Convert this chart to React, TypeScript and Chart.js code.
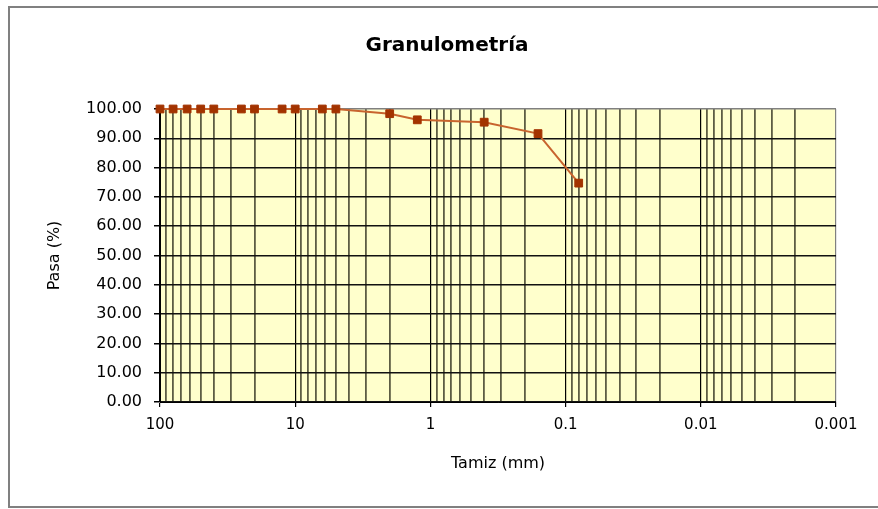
import React, { useEffect, useRef } from "react";
import { Chart, registerables } from "chart.js";

Chart.register(...registerables);

// Sieve sizes (mm) and percent passing
const sieveSizes = [100, 80, 63, 50, 40, 25, 20, 12.5, 10, 6.3, 5, 2, 1.25, 0.4, 0.16, 0.08];
const passing = [100, 100, 100, 100, 100, 100, 100, 100, 100, 100, 100, 98.4, 96.3, 95.5, 91.6, 74.7];

// Axis labels
const xMajorValues = [100, 10, 1, 0.1, 0.01, 0.001];
const xMajorLabels = ["100", "10", "1", "0.1", "0.01", "0.001"];
const yTickValues = [0, 10, 20, 30, 40, 50, 60, 70, 80, 90, 100];

const FONT = "DejaVu Sans";

function isMajor(v: number) {
  const l = Math.log10(v);
  return Math.abs(l - Math.round(l)) < 1e-6;
}

function labelFor(v: number) {
  for (let i = 0; i < xMajorValues.length; i++) {
    if (Math.abs(xMajorValues[i] - v) / xMajorValues[i] < 1e-6) return xMajorLabels[i];
  }
  return "";
}

const bgPlugin = {
  id: "bgPlugin",
  beforeDraw(chart: any) {
    const { ctx, chartArea } = chart;
    ctx.save();
    ctx.fillStyle = "#ffffff";
    ctx.fillRect(0, 0, chart.width, chart.height);
    ctx.fillStyle = "#ffffcc";
    ctx.fillRect(chartArea.left, chartArea.top, chartArea.right - chartArea.left, chartArea.bottom - chartArea.top);
    ctx.strokeStyle = "#808080";
    ctx.lineWidth = 2;
    ctx.strokeRect(9, 7, 900, 500);
    ctx.restore();
  },
};

export default function App() {
  const ref = useRef<HTMLCanvasElement | null>(null);
  useEffect(() => {
    if (!ref.current) return;
    const minorTicks: number[] = [];
    for (let e = -3; e <= 1; e++) {
      for (let s = 1; s <= 9; s++) minorTicks.push(s * Math.pow(10, e));
    }
    minorTicks.push(100);

    const chart = new Chart(ref.current, {
      type: "line",
      data: {
        datasets: [
          {
            data: sieveSizes.map((s, i) => ({ x: s, y: passing[i] })),
            borderColor: "#c8642e",
            borderWidth: 2,
            pointStyle: "rect",
            pointRadius: 5.5,
            pointBackgroundColor: "#a33300",
            pointBorderColor: "#a33300",
            pointBorderWidth: 1,
            clip: false as any,
            tension: 0,
          },
        ],
      },
      options: {
        animation: false,
        responsive: true,
        maintainAspectRatio: false,
        layout: { padding: { left: 16, top: 0, right: 0, bottom: 0 } },
        plugins: {
          legend: { display: false },
          tooltip: { enabled: false },
          title: {
            display: true,
            text: "Granulometría",
            color: "#000",
            font: { family: FONT, size: 20, weight: "bold" },
            padding: { top: 34, bottom: 51 },
          },
        },
        scales: {
          x: {
            type: "logarithmic",
            reverse: true,
            min: 0.001,
            max: 100,
            afterFit(scale: any) {
              scale.height = 107;
            },
            afterBuildTicks(scale: any) {
              scale.ticks = minorTicks.map((v) => ({ value: v, major: isMajor(v) }));
            },
            ticks: {
              autoSkip: false,
              maxRotation: 0,
              minRotation: 0,
              color: "#000",
              padding: 9,
              font: { family: FONT, size: 15 },
              callback: (v: any) => labelFor(Number(v)),
            },
            grid: {
              color: (c: any) => {
                const v = c.tick ? c.tick.value : 1;
                if (Math.abs(v - 0.001) < 1e-9) return "#808080";
                return isMajor(v) ? "#000000" : "rgba(30,30,15,0.72)";
              },
              lineWidth: (c: any) => {
                const v = c.tick ? c.tick.value : 1;
                return isMajor(v) ? 1.2 : 1.8;
              },
              tickLength: 5,
              tickColor: (c: any) => {
                const v = c.tick ? c.tick.value : 1;
                return isMajor(v) ? "#000" : "rgba(0,0,0,0)";
              },
            },
            border: { display: true, color: "#000", width: 1 },
            title: {
              display: true,
              text: "Tamiz (mm)",
              color: "#000",
              font: { family: FONT, size: 16 },
              padding: { top: 36, bottom: 36 },
            },
          },
          y: {
            type: "linear",
            min: 0,
            max: 100,
            afterFit(scale: any) {
              scale.width = 144;
            },
            afterBuildTicks(scale: any) {
              scale.ticks = yTickValues.map((v) => ({ value: v }));
            },
            ticks: {
              color: "#000",
              padding: 12,
              font: { family: FONT, size: 16 },
              callback: (v: any) => Number(v).toFixed(2),
            },
            grid: {
              color: (c: any) => (c.tick && c.tick.value === 100 ? "#808080" : "#111111"),
              lineWidth: 1.5,
              tickLength: 6,
              tickColor: "#000",
            },
            border: { display: true, color: "#000", width: 1 },
            title: {
              display: true,
              text: "Pasa (%)",
              color: "#000",
              font: { family: FONT, size: 16 },
              padding: { top: 29, bottom: 29 },
            },
          },
          yR: {
            type: "linear",
            position: "right",
            display: true,
            afterFit(scale: any) {
              scale.width = 42;
            },
            ticks: { display: false },
            grid: { display: false, drawTicks: false },
            border: { display: false },
          },
        },
      } as any,
      plugins: [bgPlugin],
    });
    return () => chart.destroy();
  }, []);

  return (
    <div style={{ position: "absolute", left: 0, top: 0, width: 878, height: 509 }}>
      <canvas ref={ref} />
    </div>
  );
}
